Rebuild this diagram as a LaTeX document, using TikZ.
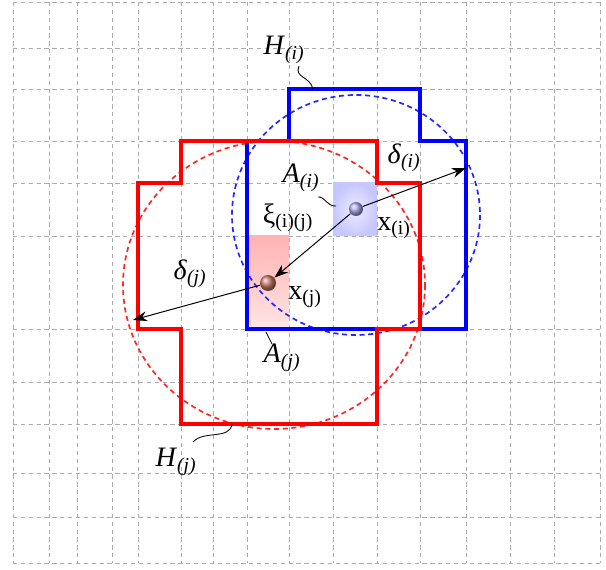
\documentclass[tikz,border=0pt]{standalone}
\usepackage{amsmath}
\usepackage{fontspec}
\setmainfont{Liberation Serif}
\usetikzlibrary{arrows.meta,calc,positioning}

\newcommand{\sublbl}[2]{#1$_{\text{#2}}$}

\begin{document}
\begin{tikzpicture}[x=0.025cm,y=-0.025cm,
  font=\fontsize{20}{22}\selectfont,
  gridline/.style={gray!65,line width=0.65pt,dash pattern=on 3pt off 2.6pt},
  cellshape/.style={line width=2.2pt,line join=miter},
  ring/.style={line width=1.2pt,dash pattern=on 3.6pt off 2.6pt},
  ptball/.style={circle,shading=ball,inner sep=0pt},
  vec/.style={black,line width=0.7pt,-{Stealth[length=10pt,width=7pt]}},
  leader/.style={black,line width=0.6pt}]
 \useasboundingbox (0,0) rectangle (606,570);
 % mesh
 \foreach \gx in {13,49,77,112,138,181,213,247,289,333,377,420,466,510,554,600}
  \draw[gridline] (\gx,2) -- (\gx,563);
 \foreach \gy in {2,48,89,141,183,236,329,382,424,473,517,563}
  \draw[gridline] (13,\gy) -- (600,\gy);
 % cells A_i, A_j
 \shade[inner color=blue!7,outer color=blue!22] (333,183) rectangle (377,236);
 \shade[top color=red!30,bottom color=red!10] (247,236) rectangle (289,329);
 % rings
 \draw[ring,blue!85] (356,215) ellipse [x radius=124, y radius=120];
 \draw[ring,red!85] (274,285) ellipse [x radius=151, y radius=144];
 % H_i and H_j
 \draw[cellshape,blue] (289,89) -- (420,89) -- (420,141) -- (466,141) -- (466,329)
   -- (247,329) -- (247,141) -- (289,141) -- cycle;
 \draw[cellshape,red] (181,141) -- (377,141) -- (377,183) -- (420,183) -- (420,329)
   -- (377,329) -- (377,424) -- (181,424) -- (181,329) -- (138,329) -- (138,183)
   -- (181,183) -- cycle;
 % points
 \node[ptball,ball color={rgb,255:red,175;green,175;blue,240},minimum size=0.35cm] (xi) at (356,209) {};
 \node[ptball,ball color={rgb,255:red,205;green,125;blue,110},minimum size=0.4cm] (xj) at (268,283) {};
 \coordinate (tipi) at (466,168);
 \coordinate (tipj) at (133,320);
 \draw[vec] (xi) -- (tipi);
 \draw[vec] (xi) -- (xj);
 \draw[vec] (xj) -- (tipj);
 % labels
 \node (lHi) at (284,50) {\sublbl{\textit{H}}{\itshape(i)}};
 \node (lDi) at (404,158) {\sublbl{\textit{δ}}{\itshape(i)}};
 \node (lAi) at (301,178) {\sublbl{\textit{A}}{\itshape(i)}};
 \node (lXii) at (394,228) {\sublbl{x}{(i)}};
 \node (lXi) at (288,218) {\sublbl{ξ}{(i)(j)}};
 \node (lXjj) at (305,297) {\sublbl{x}{(j)}};
 \node (lDj) at (190,274) {\sublbl{\textit{δ}}{\itshape(j)}};
 \node (lAj) at (282,358) {\sublbl{\textit{A}}{\itshape(j)}};
 \node (lHj) at (176,462) {\sublbl{\textit{H}}{\itshape(j)}};
 % leaders
 \coordinate (hia) at (299,66);
 \coordinate (hib) at (313,89);
 \coordinate (aia) at (318,197);
 \coordinate (aib) at (336,206);
 \coordinate (aja) at (266,332);
 \coordinate (ajb) at (272,344);
 \coordinate (hja) at (193,442);
 \coordinate (hjb) at (232,424);
 \draw[leader] (hia) .. controls (294,78) and (310,76) .. (hib);
 \draw[leader] (aia) .. controls (324,196) and (328,207) .. (aib);
 \draw[leader] (aja) -- (ajb);
 \draw[leader] (hja) .. controls (204,430) and (230,440) .. (hjb);
\end{tikzpicture}
\end{document}
